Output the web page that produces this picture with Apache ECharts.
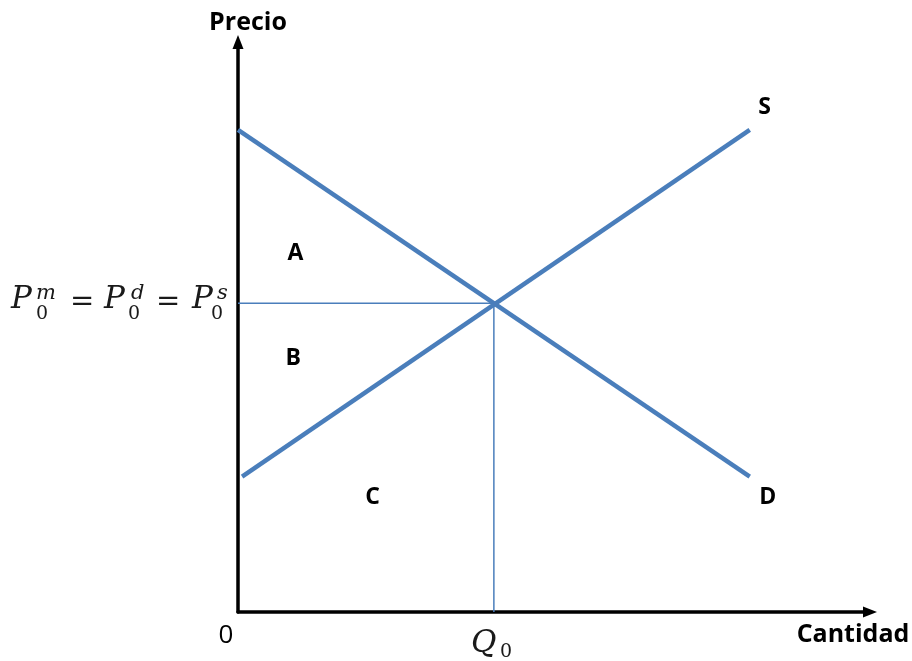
<!DOCTYPE html>
<html>
<head>
<meta charset="utf-8">
<script src="https://cdn.jsdelivr.net/npm/echarts@6/dist/echarts.min.js"></script>
<style>
  html, body { margin: 0; padding: 0; background: #fff; }
  #main { width: 912px; height: 661px; }
</style>
</head>
<body>
<div id="main"></div>
<script>
// datos del gráfico (equilibrio oferta / demanda)
var demandQ = [0, 10];
var demandP = [10.15, 2.85];
var supplyQ = [0.08, 10];
var supplyP = [2.85, 10.15];
var q0 = 5;
var p0 = 6.5;
// etiquetas de las áreas y curvas
var labelNames = ["A", "B", "C", "S", "D"];
var labelQ = [1.12, 1.08, 2.63, 10.29, 10.35];
var labelP = [7.55, 5.34, 2.42, 10.62, 2.42];

var blue = "#4a7ebb";
var titleFont = "bold 25px 'Open Sans'";
var serif = "'DejaVu Serif'";

(function() {
    var myChart = echarts.init(document.getElementById("main"));

    function pairs(xs, ys) {
        return xs.map(function(x, i) { return [x, ys[i]]; });
    }

    // texto de P0m = P0d = P0s, armado por piezas (sub y superíndices)
    var pParts = [
        { t: "P", x: 11, y: 300, f: "italic 31px " + serif },
        { t: "m", x: 36, y: 294, f: "italic 21px " + serif },
        { t: "0", x: 36, y: 314, f: "19px " + serif },
        { t: "=", x: 70, y: 302, f: "29px " + serif },
        { t: "P", x: 104, y: 300, f: "italic 31px " + serif },
        { t: "d", x: 131, y: 294, f: "italic 21px " + serif },
        { t: "0", x: 128, y: 314, f: "19px " + serif },
        { t: "=", x: 156, y: 302, f: "29px " + serif },
        { t: "P", x: 192, y: 300, f: "italic 31px " + serif },
        { t: "s", x: 217, y: 294, f: "italic 21px " + serif },
        { t: "0", x: 211, y: 314, f: "19px " + serif }
    ];
    var graphics = pParts.map(function(p) {
        return {
            type: "text",
            x: p.x, y: p.y,
            style: { text: p.t, font: p.f, fill: "#1a1a1a", verticalAlign: "middle" }
        };
    });
    graphics.push(
        { type: "text", x: 248, y: 23, style: { text: "Precio", font: titleFont, fill: "#000", align: "center", verticalAlign: "middle" } },
        { type: "text", x: 853, y: 635, style: { text: "Cantidad", font: titleFont, fill: "#000", align: "center", verticalAlign: "middle" } },
        { type: "text", x: 226, y: 636, style: { text: "0", font: "26px 'Open Sans'", fill: "#000", align: "center", verticalAlign: "middle" } },
        { type: "text", x: 471, y: 644, style: { text: "Q", font: "italic 31px " + serif, fill: "#1a1a1a", verticalAlign: "middle" } },
        { type: "text", x: 500, y: 652, style: { text: "0", font: "19px " + serif, fill: "#1a1a1a", verticalAlign: "middle" } }
    );

    var axisCommon = {
        type: "value",
        min: 0,
        splitLine: { show: false },
        axisTick: { show: false },
        axisLabel: { show: false },
        axisLine: {
            show: true,
            onZero: false,
            symbol: ["none", "triangle"],
            symbolSize: [11, 14],
            lineStyle: { color: "#000", width: 3.5 }
        }
    };

    var option = {
        animation: false,
        grid: { left: 238, top: 42, width: 632, height: 570 },
        xAxis: Object.assign({}, axisCommon, { max: 12.35 }),
        yAxis: Object.assign({}, axisCommon, { max: 12 }),
        graphic: graphics,
        series: [
            {
                // líneas guía hacia P0 y Q0
                type: "line",
                data: [[0, p0], [q0, p0], [q0, 0]],
                showSymbol: false,
                lineStyle: { color: blue, width: 1.5 },
                z: 1
            },
            {
                name: "D",
                type: "line",
                data: pairs(demandQ, demandP),
                showSymbol: false,
                lineStyle: { color: blue, width: 4.5 },
                z: 2
            },
            {
                name: "S",
                type: "line",
                data: pairs(supplyQ, supplyP),
                showSymbol: false,
                lineStyle: { color: blue, width: 4.5 },
                z: 2
            },
            {
                type: "scatter",
                symbolSize: 0,
                itemStyle: { opacity: 1 },
                data: pairs(labelQ, labelP).map(function(d, i) {
                    return { value: d, name: labelNames[i] };
                }),
                label: {
                    show: true,
                    position: "inside",
                    formatter: "{b}",
                    fontFamily: "Open Sans",
                    fontWeight: "bold",
                    fontSize: 23,
                    color: "#000",
                    opacity: 1
                }
            }
        ]
    };

    myChart.setOption(option);
    window.addEventListener("resize", function() {
        myChart.resize();
    });
})();
</script>
</body>
</html>
